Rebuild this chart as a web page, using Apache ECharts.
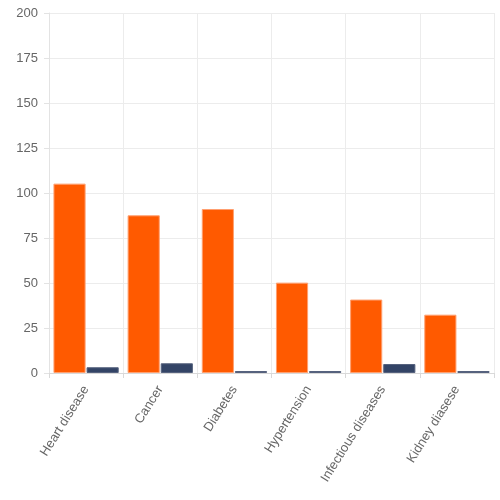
<!DOCTYPE html>
<html>
<head>
<meta charset="utf-8">
<script src="https://cdn.jsdelivr.net/npm/echarts@6/dist/echarts.min.js"></script>
<style>
  html, body { margin: 0; padding: 0; background: #fff; }
  #myChart { width: 500px; height: 500px; }
</style>
</head>
<body>
<div id="myChart"></div>
<script>
// categories
var diseaseNames = ["Heart disease", "Cancer", "Diabetes", "Hypertension", "Infectious diseases", "Kidney diasese"];
// series values
var orangeValues = [105.2, 87.6, 91.1, 50.2, 40.8, 32.4];
var navyValues = [3.2, 5.4, 0.9, 0.4, 5.0, 0.6];
// y ticks
var yMin = 0, yMax = 200, yStep = 25;

var myChart = echarts.init(document.getElementById("myChart"));
myChart.setOption({
  animation: false,
  grid: { left: 49, right: 6, top: 13, bottom: 127 },
  xAxis: {
    type: "category",
    data: diseaseNames,
    axisLine: { show: true, lineStyle: { color: "#d9d9d9" } },
    axisTick: { show: true, length: 5, lineStyle: { color: "#d9d9d9" } },
    axisLabel: {
      rotate: 58,
      interval: 0,
      color: "#666",
      fontSize: 13,
      fontFamily: "Liberation Sans",
      margin: 14
    },
    splitLine: { show: true, lineStyle: { color: "#ececec" } }
  },
  yAxis: {
    type: "value",
    min: yMin,
    max: yMax,
    interval: yStep,
    axisLine: { show: true, lineStyle: { color: "#e3e3e3" } },
    axisTick: { show: true, length: 5, lineStyle: { color: "#e3e3e3" } },
    axisLabel: { color: "#666", fontSize: 13, fontFamily: "Liberation Sans", margin: 11 },
    splitLine: { show: true, lineStyle: { color: "#ececec" } }
  },
  series: [
    {
      type: "bar",
      data: orangeValues,
      barCategoryGap: "12%",
      barGap: "3%",
      itemStyle: { color: "#ff5a00", borderColor: "#ffa070", borderWidth: 1 }
    },
    {
      type: "bar",
      data: navyValues,
      barMinHeight: 2,
      itemStyle: { color: "#334466", borderColor: "#56627e", borderWidth: 1 }
    }
  ]
});
</script>
</body>
</html>
